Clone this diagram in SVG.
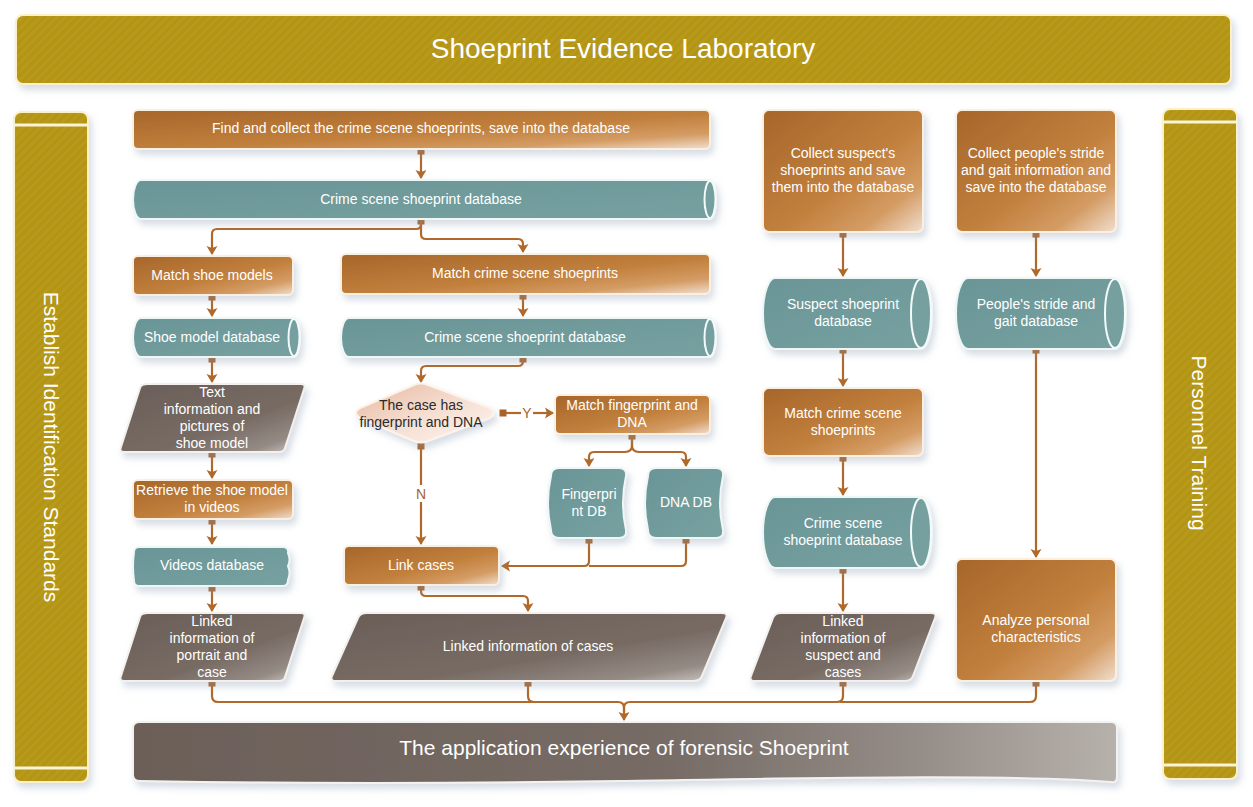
<svg xmlns="http://www.w3.org/2000/svg" width="1253" height="807" viewBox="0 0 1253 807">
<defs>
  <linearGradient id="gOrange" x1="0" y1="0" x2="1" y2="1">
    <stop offset="0" stop-color="#a6662a"/>
    <stop offset="0.55" stop-color="#c2803d"/>
    <stop offset="0.8" stop-color="#d49c64"/>
    <stop offset="1" stop-color="#f1dfd0"/>
  </linearGradient>
  <linearGradient id="gTeal" x1="0" y1="0" x2="1" y2="1">
    <stop offset="0" stop-color="#6a9596"/>
    <stop offset="1" stop-color="#77a1a1"/>
  </linearGradient>
  <linearGradient id="gDark" x1="0" y1="0" x2="1" y2="1">
    <stop offset="0" stop-color="#6a5e57"/>
    <stop offset="0.6" stop-color="#776b64"/>
    <stop offset="0.85" stop-color="#958b85"/>
    <stop offset="1" stop-color="#d0cbc7"/>
  </linearGradient>
  <linearGradient id="gBanner" x1="0" y1="0" x2="1" y2="0">
    <stop offset="0" stop-color="#6c5f58"/>
    <stop offset="0.55" stop-color="#776c66"/>
    <stop offset="0.8" stop-color="#958d88"/>
    <stop offset="1" stop-color="#b7b1ac"/>
  </linearGradient>
  <linearGradient id="gDiamond" x1="0" y1="0" x2="1" y2="1">
    <stop offset="0" stop-color="#e6b89e"/>
    <stop offset="0.5" stop-color="#f5ddd0"/>
    <stop offset="1" stop-color="#fdf6f2"/>
  </linearGradient>
  <pattern id="stripes" width="6" height="6" patternUnits="userSpaceOnUse" patternTransform="rotate(45)">
    <rect width="6" height="6" fill="#b8991a"/>
    <rect width="3" height="6" fill="#b39518"/>
  </pattern>
  <filter id="sh" x="-10%" y="-20%" width="125%" height="150%">
    <feDropShadow dx="3" dy="5" stdDeviation="3.5" flood-color="#8c9cb4" flood-opacity="0.35"/>
  </filter>
  <marker id="arr" markerUnits="userSpaceOnUse" markerWidth="12" markerHeight="12" refX="8" refY="6" orient="auto">
    <path d="M0,0.5 L9,6 L0,11.5 L2,6 Z" fill="#b0692a"/>
  </marker>
  <marker id="sq" markerUnits="userSpaceOnUse" markerWidth="8" markerHeight="8" refX="4" refY="4" orient="auto">
    <rect x="0.5" y="0.5" width="7" height="7" fill="#a8622a"/>
  </marker>
</defs>
<style>
  .t{font-family:"Liberation Sans",Arial,sans-serif;font-size:14px;fill:#ffffff;text-anchor:middle}
  .td{font-family:"Liberation Sans",Arial,sans-serif;font-size:14px;fill:#2a2a2a;text-anchor:middle}
  .big{font-family:"Liberation Sans",Arial,sans-serif;fill:#ffffff;text-anchor:middle}
  .lbl{font-family:"Liberation Sans",Arial,sans-serif;font-size:14px;fill:#a8622a;text-anchor:middle}
  .orange{fill:url(#gOrange);stroke:#fbefe2;stroke-width:2;filter:url(#sh)}
  .teal{fill:url(#gTeal);stroke:#eef6f6;stroke-width:2;filter:url(#sh)}
  .cap{fill:#76a0a0;stroke:#f4fafa;stroke-width:2}
  .dark{fill:url(#gDark);stroke:#f3f0ee;stroke-width:2;filter:url(#sh)}
  .gold{fill:url(#stripes);stroke:#fbf0c8;stroke-width:2;filter:url(#sh)}
  .goldline{stroke:#fbf3d6;stroke-width:3}
  .c{fill:none;stroke:#b0692a;stroke-width:2.2}
  .a{marker-end:url(#arr)}
  .s{marker-start:url(#sq)}
</style>

<g id="header">
  <rect class="gold" x="16" y="15" width="1215" height="69" rx="7"/>
  <text class="big" x="623" y="58" font-size="28">Shoeprint Evidence Laboratory</text>
</g>

<g id="left-bar">
  <rect class="gold" x="14" y="112" width="74" height="670" rx="7"/>
  <line class="goldline" x1="14" y1="125" x2="88" y2="125"/>
  <line class="goldline" x1="14" y1="768" x2="88" y2="768"/>
  <text class="big" font-size="21" transform="translate(51,447) rotate(90)" x="0" y="7.5">Establish Identification Standards</text>
</g>

<g id="right-bar">
  <rect class="gold" x="1163" y="109" width="74" height="670" rx="7"/>
  <line class="goldline" x1="1163" y1="122" x2="1237" y2="122"/>
  <line class="goldline" x1="1163" y1="765" x2="1237" y2="765"/>
  <text class="big" font-size="21" transform="translate(1199,443) rotate(90)" x="0" y="7.5">Personnel Training</text>
</g>

<g id="connectors">
  <path class="c s a" d="M421,151 V178"/>
  <path class="c s a" d="M421,221 V224 Q421,229 416,229 H217 Q212,229 212,234 V254"/>
  <path class="c a" d="M421,221 V234 Q421,239 426,239 H518 Q523,239 523,244 V252"/>
  <path class="c s a" d="M212,297 V316"/>
  <path class="c s a" d="M523,296 V316"/>
  <path class="c s a" d="M212,359 V382"/>
  <path class="c s a" d="M523,359 V361 Q523,366 518,366 H426 Q421,366 421,371 V382"/>
  <path class="c s" d="M503,413 H521"/>
  <path class="c a" d="M533,413 H553"/>
  <path class="c s a" d="M632,436 V445 Q632,452 625,452 H594 Q589,452 589,457 V466"/>
  <path class="c a" d="M632,436 V445 Q632,452 639,452 H681 Q686,452 686,457 V466"/>
  <path class="c s" d="M421,446 V485"/>
  <path class="c a" d="M421,502 V544"/>
  <path class="c s a" d="M589,540 V561 Q589,566 584,566 H502"/>
  <path class="c s" d="M686,540 V561 Q686,566 681,566 H589"/>
  <path class="c s a" d="M421,587 V591 Q421,596 426,596 H523 Q528,596 528,601 V611"/>
  <path class="c s a" d="M212,454 V478"/>
  <path class="c s a" d="M212,521 V544"/>
  <path class="c s a" d="M212,588 V611"/>
  <path class="c s a" d="M843,234 V276"/>
  <path class="c s a" d="M843,350 V386"/>
  <path class="c s a" d="M843,458 V495"/>
  <path class="c s a" d="M843,570 V611"/>
  <path class="c s a" d="M1036,234 V276"/>
  <path class="c s a" d="M1036,350 V557"/>
  <path class="c s a" d="M212,683 V696 Q212,702 218,702 H618 Q624,702 624,708 V720"/>
  <path class="c s" d="M528,683 V696 Q528,702 534,702 H600"/>
  <path class="c s" d="M843,683 V696 Q843,702 837,702 H630 Q624,702 624,708 V712"/>
  <path class="c s" d="M1036,683 V696 Q1036,702 1030,702 H840"/>
  <text class="lbl" x="527" y="418">Y</text>
  <text class="lbl" x="421" y="499">N</text>
</g>

<g id="n-collect-scene">
  <rect class="orange" x="133" y="110" width="577" height="39" rx="5"/>
  <text class="t" x="421" y="133">Find and collect the crime scene shoeprints, save into the database</text>
</g>

<g id="n-scene-db-1">
  <path class="teal" d="M141,180 H710 A6,19.5 0 0 1 710,219 H141 A8,19.5 0 0 1 141,180 Z"/>
  <ellipse class="cap" cx="710" cy="199.5" rx="5.5" ry="18.5"/>
  <text class="t" x="421" y="204">Crime scene shoeprint database</text>
</g>

<g id="n-match-models">
  <rect class="orange" x="133" y="256" width="160" height="39" rx="5"/>
  <text class="t" x="212" y="280">Match shoe models</text>
</g>

<g id="n-match-scene">
  <rect class="orange" x="341" y="254" width="369" height="40" rx="5"/>
  <text class="t" x="525" y="278">Match crime scene shoeprints</text>
</g>

<g id="n-model-db">
  <path class="teal" d="M141,318 H294 A6,19.5 0 0 1 294,357 H141 A8,19.5 0 0 1 141,318 Z"/>
  <ellipse class="cap" cx="294" cy="337.5" rx="5.5" ry="18.5"/>
  <text class="t" x="212" y="342">Shoe model database</text>
</g>

<g id="n-scene-db-2">
  <path class="teal" d="M349,318 H710 A6,19.5 0 0 1 710,357 H349 A8,19.5 0 0 1 349,318 Z"/>
  <ellipse class="cap" cx="710" cy="337.5" rx="5.5" ry="18.5"/>
  <text class="t" x="525" y="342">Crime scene shoeprint database</text>
</g>

<g id="n-text-info">
  <path class="dark" d="M148,384 H301 Q306,384 304,389 L285,448 Q284,452 279,452 H124 Q119,452 121,447 L140,388 Q141,384 148,384 Z"/>
  <text class="t" x="212" y="397">Text</text>
  <text class="t" x="212" y="414">information and</text>
  <text class="t" x="212" y="431">pictures of</text>
  <text class="t" x="212" y="448">shoe model</text>
</g>

<g id="n-retrieve">
  <rect class="orange" x="133" y="480" width="160" height="39" rx="5"/>
  <text class="t" x="212" y="495">Retrieve the shoe model</text>
  <text class="t" x="212" y="512">in videos</text>
</g>

<g id="n-videos-db">
  <path class="teal" d="M139,547 H284 Q289,548 288,553 Q291,560 288,566 Q291,573 288,580 Q288,586 283,586 H139 Q134,586 134,581 Q132,566 134,552 Q134,547 139,547 Z"/>
  <text class="t" x="212" y="570">Videos database</text>
</g>

<g id="n-linked-portrait">
  <path class="dark" d="M148,613 H301 Q306,613 304,618 L285,677 Q284,681 279,681 H124 Q119,681 121,676 L140,617 Q141,613 148,613 Z"/>
  <text class="t" x="212" y="626">Linked</text>
  <text class="t" x="212" y="643">information of</text>
  <text class="t" x="212" y="660">portrait and</text>
  <text class="t" x="212" y="677">case</text>
</g>

<g id="n-decision">
  <path d="M360,408 L414,385 Q421,382 428,385 L490,408 Q497,413 490,418 L428,441 Q421,444 414,441 L360,418 Q352,413 360,408 Z" fill="url(#gDiamond)" stroke="#fdf3ec" stroke-width="2" filter="url(#sh)"/>
  <text class="td" x="421" y="410">The case has</text>
  <text class="td" x="421" y="427">fingerprint and DNA</text>
</g>

<g id="n-match-fp">
  <rect class="orange" x="555" y="395" width="155" height="39" rx="5"/>
  <text class="t" x="632" y="410">Match fingerprint and</text>
  <text class="t" x="632" y="427">DNA</text>
</g>

<g id="n-fp-db">
  <path class="teal" d="M559,468 H619 Q627,468 626,476 Q620,503 626,530 Q627,538 619,538 H559 Q551,538 551,530 Q545,503 551,476 Q551,468 559,468 Z"/>
  <text class="t" x="589" y="499">Fingerpri</text>
  <text class="t" x="589" y="516">nt DB</text>
</g>

<g id="n-dna-db">
  <path class="teal" d="M656,468 H716 Q724,468 723,476 Q717,503 723,530 Q724,538 716,538 H656 Q648,538 648,530 Q642,503 648,476 Q648,468 656,468 Z"/>
  <text class="t" x="686" y="507">DNA DB</text>
</g>

<g id="n-link-cases">
  <rect class="orange" x="344" y="546" width="155" height="39" rx="5"/>
  <text class="t" x="421" y="570">Link cases</text>
</g>

<g id="n-linked-cases">
  <path class="dark" d="M367,613 H722 Q728,613 726,618 L702,676 Q700,681 694,681 H336 Q330,681 332,676 L358,618 Q360,613 367,613 Z"/>
  <text class="t" x="528" y="651">Linked information of cases</text>
</g>

<g id="n-collect-suspect">
  <rect class="orange" x="763" y="110" width="160" height="122" rx="6"/>
  <text class="t" x="843" y="158">Collect suspect's</text>
  <text class="t" x="843" y="175">shoeprints and save</text>
  <text class="t" x="843" y="192">them into the database</text>
</g>

<g id="n-suspect-db">
  <path class="teal" d="M775,278 H921 A11,35.5 0 0 1 921,349 H775 A12,35.5 0 0 1 775,278 Z"/>
  <ellipse class="cap" cx="921" cy="313.5" rx="10" ry="34.5"/>
  <text class="t" x="843" y="309">Suspect shoeprint</text>
  <text class="t" x="843" y="326">database</text>
</g>

<g id="n-match-suspect">
  <rect class="orange" x="763" y="388" width="160" height="68" rx="6"/>
  <text class="t" x="843" y="418">Match crime scene</text>
  <text class="t" x="843" y="435">shoeprints</text>
</g>

<g id="n-scene-db-3">
  <path class="teal" d="M775,497 H921 A11,35.5 0 0 1 921,568 H775 A12,35.5 0 0 1 775,497 Z"/>
  <ellipse class="cap" cx="921" cy="532.5" rx="10" ry="34.5"/>
  <text class="t" x="843" y="528">Crime scene</text>
  <text class="t" x="843" y="545">shoeprint database</text>
</g>

<g id="n-linked-suspect">
  <path class="dark" d="M781,613 H931 Q937,613 935,618 L913,676 Q911,681 905,681 H755 Q749,681 751,676 L773,618 Q775,613 781,613 Z"/>
  <text class="t" x="843" y="626">Linked</text>
  <text class="t" x="843" y="643">information of</text>
  <text class="t" x="843" y="660">suspect and</text>
  <text class="t" x="843" y="677">cases</text>
</g>

<g id="n-collect-gait">
  <rect class="orange" x="956" y="110" width="160" height="122" rx="6"/>
  <text class="t" x="1036" y="158">Collect people's stride</text>
  <text class="t" x="1036" y="175">and gait information and</text>
  <text class="t" x="1036" y="192">save into the database</text>
</g>

<g id="n-gait-db">
  <path class="teal" d="M968,278 H1115 A11,35.5 0 0 1 1115,349 H968 A12,35.5 0 0 1 968,278 Z"/>
  <ellipse class="cap" cx="1115" cy="313.5" rx="10" ry="34.5"/>
  <text class="t" x="1036" y="309">People's stride and</text>
  <text class="t" x="1036" y="326">gait database</text>
</g>

<g id="n-analyze">
  <rect class="orange" x="956" y="559" width="160" height="122" rx="6"/>
  <text class="t" x="1036" y="625">Analyze personal</text>
  <text class="t" x="1036" y="642">characteristics</text>
</g>

<g id="n-application">
  <path d="M140,722 H1111 Q1117,722 1117,728 V777 Q1117,783 1111,782 C1000,774 820,778 620,781 C420,784 260,783 140,781 Q133,781 133,775 V728 Q133,722 140,722 Z" fill="url(#gBanner)" stroke="#f4f2f0" stroke-width="2" filter="url(#sh)"/>
  <text class="big" x="624" y="755" font-size="21">The application experience of forensic Shoeprint</text>
</g>
</svg>
